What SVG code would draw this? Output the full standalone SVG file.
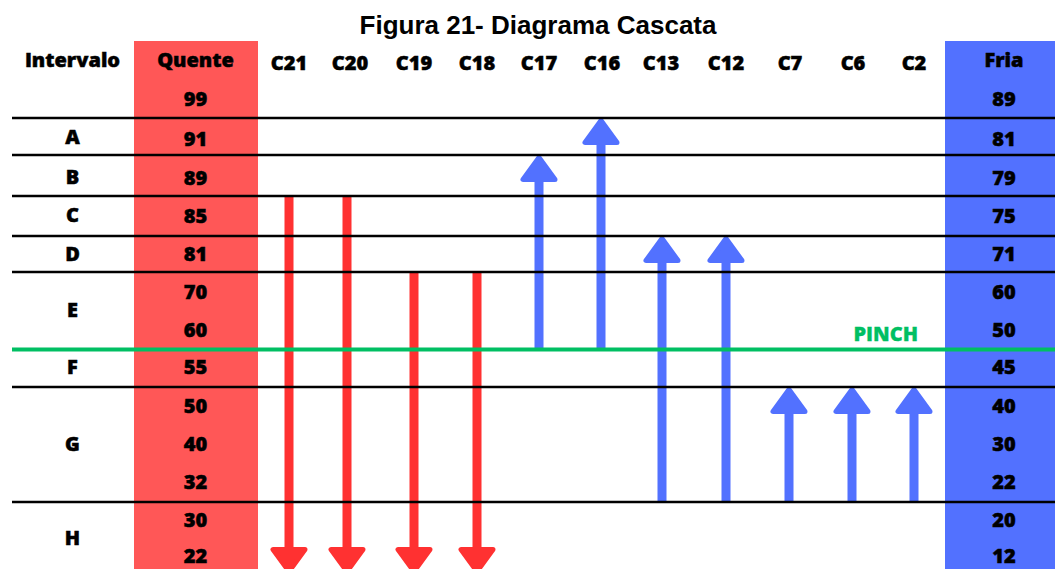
<svg xmlns="http://www.w3.org/2000/svg" xmlns:xlink="http://www.w3.org/1999/xlink" width="1055" height="569" viewBox="0 0 1055 569">
<style>
  .title { font-family: "Liberation Sans", Arial, sans-serif; font-weight: bold; font-size: 26px; fill: #000; text-anchor: middle; }
  .lbl { font-family: "Open Sans", "Noto Sans", sans-serif; font-weight: 800; font-size: 20px; fill: #000; stroke: #000; stroke-width: 0.5; text-anchor: middle; }
  .pinch { font-family: "Open Sans", "Noto Sans", sans-serif; font-weight: 800; font-size: 20px; fill: #00BF63; stroke: #00BF63; stroke-width: 0.3; text-anchor: end; }
  .row { stroke: #000; stroke-width: 2.3; }
  .pinchline { stroke: #00BF63; stroke-width: 3.8; }
  .hot { stroke: #FF3131; stroke-width: 9; }
  .cold { stroke: #5271FF; stroke-width: 9; }
  .hothead { fill: #FF3131; stroke: #FF3131; stroke-width: 5; stroke-linejoin: round; }
  .coldhead { fill: #5271FF; stroke: #5271FF; stroke-width: 5; stroke-linejoin: round; }
</style>
<defs>
  <path id="up" d="M0,2.5 L-16,24.5 L16,24.5 Z"/>
  <path id="down" d="M0,24.5 L-16,2.5 L16,2.5 Z"/>
</defs>
<rect width="1055" height="569" fill="#fff"/>
<text class="title" x="538" y="34">Figura 21- Diagrama Cascata</text>

<g id="col-quente">
  <rect x="134" y="41" width="124" height="528" fill="#FF5757"/>
</g>
<g id="col-fria">
  <rect x="945" y="41" width="110" height="528" fill="#5271FF"/>
</g>

<g id="connectors">
  <g id="C21-arrow"><line class="hot" x1="289" y1="195" x2="289" y2="552"/><use xlink:href="#down" class="hothead" x="289" y="547"/></g>
  <g id="C20-arrow"><line class="hot" x1="347" y1="195" x2="347" y2="552"/><use xlink:href="#down" class="hothead" x="347" y="547"/></g>
  <g id="C19-arrow"><line class="hot" x1="414" y1="271" x2="414" y2="552"/><use xlink:href="#down" class="hothead" x="414" y="547"/></g>
  <g id="C18-arrow"><line class="hot" x1="477" y1="271" x2="477" y2="552"/><use xlink:href="#down" class="hothead" x="477" y="547"/></g>
  <g id="C17-arrow"><line class="cold" x1="539" y1="349" x2="539" y2="175"/><use xlink:href="#up" class="coldhead" x="539" y="155"/></g>
  <g id="C16-arrow"><line class="cold" x1="601" y1="349" x2="601" y2="138"/><use xlink:href="#up" class="coldhead" x="601" y="118"/></g>
  <g id="C13-arrow"><line class="cold" x1="662" y1="502" x2="662" y2="256"/><use xlink:href="#up" class="coldhead" x="662" y="236"/></g>
  <g id="C12-arrow"><line class="cold" x1="726" y1="502" x2="726" y2="256"/><use xlink:href="#up" class="coldhead" x="726" y="236"/></g>
  <g id="C7-arrow"><line class="cold" x1="789" y1="502" x2="789" y2="407"/><use xlink:href="#up" class="coldhead" x="789" y="387"/></g>
  <g id="C6-arrow"><line class="cold" x1="852" y1="502" x2="852" y2="407"/><use xlink:href="#up" class="coldhead" x="852" y="387"/></g>
  <g id="C2-arrow"><line class="cold" x1="914" y1="502" x2="914" y2="407"/><use xlink:href="#up" class="coldhead" x="914" y="387"/></g>
</g>

<g id="row-lines">
  <line class="row" x1="12" y1="118" x2="1055" y2="118"/>
  <line class="row" x1="12" y1="155" x2="1055" y2="155"/>
  <line class="row" x1="12" y1="196" x2="1055" y2="196"/>
  <line class="row" x1="12" y1="236" x2="1055" y2="236"/>
  <line class="row" x1="12" y1="272" x2="1055" y2="272"/>
  <line class="row" x1="12" y1="387" x2="1055" y2="387"/>
  <line class="row" x1="12" y1="502" x2="1055" y2="502"/>
</g>
<g id="pinch">
  <line class="pinchline" x1="12" y1="349.5" x2="1055" y2="349.5"/>
  <text class="pinch" x="918" y="341">PINCH</text>
</g>

<g id="header">
  <text class="lbl" x="72.5" y="67">Intervalo</text>
  <text class="lbl" x="195.5" y="67">Quente</text>
  <text class="lbl" x="289" y="70">C21</text>
  <text class="lbl" x="350" y="70">C20</text>
  <text class="lbl" x="414" y="70">C19</text>
  <text class="lbl" x="477" y="70">C18</text>
  <text class="lbl" x="539" y="70">C17</text>
  <text class="lbl" x="602" y="70">C16</text>
  <text class="lbl" x="661" y="70">C13</text>
  <text class="lbl" x="726" y="70">C12</text>
  <text class="lbl" x="790" y="70">C7</text>
  <text class="lbl" x="853" y="70">C6</text>
  <text class="lbl" x="914" y="70">C2</text>
  <text class="lbl" x="1004" y="67">Fria</text>
</g>

<g id="intervals">
  <text class="lbl" x="72.5" y="144">A</text>
  <text class="lbl" x="72.5" y="184">B</text>
  <text class="lbl" x="72.5" y="222">C</text>
  <text class="lbl" x="72.5" y="261">D</text>
  <text class="lbl" x="72.5" y="317">E</text>
  <text class="lbl" x="72.5" y="374">F</text>
  <text class="lbl" x="72.5" y="451">G</text>
  <text class="lbl" x="72.5" y="545">H</text>
</g>

<g id="hot-temps">
  <text class="lbl" x="195.5" y="106">99</text>
  <text class="lbl" x="195.5" y="146">91</text>
  <text class="lbl" x="195.5" y="185">89</text>
  <text class="lbl" x="195.5" y="223">85</text>
  <text class="lbl" x="195.5" y="261">81</text>
  <text class="lbl" x="195.5" y="299">70</text>
  <text class="lbl" x="195.5" y="337">60</text>
  <text class="lbl" x="195.5" y="374">55</text>
  <text class="lbl" x="195.5" y="413">50</text>
  <text class="lbl" x="195.5" y="451">40</text>
  <text class="lbl" x="195.5" y="489">32</text>
  <text class="lbl" x="195.5" y="527">30</text>
  <text class="lbl" x="195.5" y="563">22</text>
</g>

<g id="cold-temps">
  <text class="lbl" x="1004" y="106">89</text>
  <text class="lbl" x="1004" y="146">81</text>
  <text class="lbl" x="1004" y="185">79</text>
  <text class="lbl" x="1004" y="223">75</text>
  <text class="lbl" x="1004" y="261">71</text>
  <text class="lbl" x="1004" y="299">60</text>
  <text class="lbl" x="1004" y="337">50</text>
  <text class="lbl" x="1004" y="374">45</text>
  <text class="lbl" x="1004" y="413">40</text>
  <text class="lbl" x="1004" y="451">30</text>
  <text class="lbl" x="1004" y="489">22</text>
  <text class="lbl" x="1004" y="527">20</text>
  <text class="lbl" x="1004" y="563">12</text>
</g>
</svg>
